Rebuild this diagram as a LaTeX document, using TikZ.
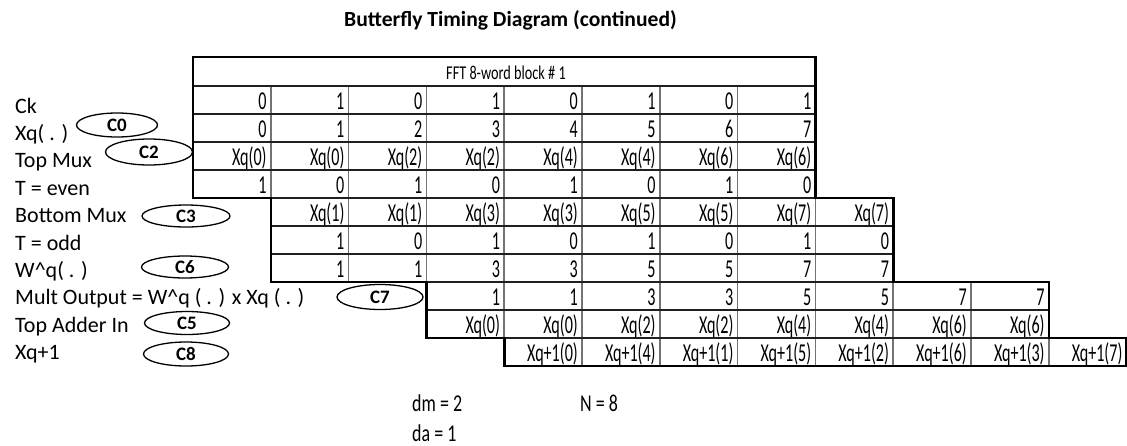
\documentclass[tikz,border=0pt]{standalone}
\usepackage{fontspec}
\usepackage{graphicx}
\setmainfont{Carlito}
\usetikzlibrary{shapes.geometric}

% narrow, tall table text
\newcommand\tabfont{\fontsize{23}{23}\selectfont}
\newcommand\cellt[1]{\scalebox{0.7}[1.12]{#1}}
\newcommand\hdrt[1]{\scalebox{0.62}[0.85]{#1}}
\newcommand\paramt[1]{\scalebox{0.78}[1.05]{#1}}

\tikzset{
  cell/.style={anchor=base east, inner sep=0pt, font=\tabfont},
  lbl/.style={anchor=base west, inner sep=0pt, font=\fontsize{22}{22}\selectfont},
  oval/.style={ellipse, draw=black, line width=1.3pt, inner sep=0pt,
               font=\bfseries\fontsize{19}{19}\selectfont},
  hline/.style={draw=black!88, line width=1.6pt},
  vline/.style={draw=black!55, line width=1.6pt},
  frame/.style={draw=black, line width=2.6pt, line join=miter},
  param/.style={font=\tabfont, anchor=base west, inner sep=0pt},
}

\begin{document}
\begin{tikzpicture}[x=1pt,y=-1pt]
\useasboundingbox (0,0) rectangle (1127,445);
\fill[white] (0,0) rectangle (1127,445);

% title
\node[anchor=base, inner sep=0pt, font=\bfseries\fontsize{21.6}{22}\selectfont]
  (title) at (510.5,26) {Butterfly Timing Diagram (continued)};

% ---- table cells ----
% row / first column / values
\foreach \r/\s/\vals in {
  1/0/{0,1,0,1,0,1,0,1},
  2/0/{0,1,2,3,4,5,6,7},
  3/0/{Xq(0),Xq(0),Xq(2),Xq(2),Xq(4),Xq(4),Xq(6),Xq(6)},
  4/0/{1,0,1,0,1,0,1,0},
  5/1/{Xq(1),Xq(1),Xq(3),Xq(3),Xq(5),Xq(5),Xq(7),Xq(7)},
  6/1/{1,0,1,0,1,0,1,0},
  7/1/{1,1,3,3,5,5,7,7},
  8/3/{1,1,3,3,5,5,7,7},
  9/3/{Xq(0),Xq(0),Xq(2),Xq(2),Xq(4),Xq(4),Xq(6),Xq(6)},
  10/4/{Xq+1(0),Xq+1(4),Xq+1(1),Xq+1(5),Xq+1(2),Xq+1(6),Xq+1(3),Xq+1(7)}}
{
  \foreach \v [count=\i from 1] in \vals {
    \node[cell] (c\r-\i) at ({193+77.8*(\s+\i)-4},{86+28*\r-5}) {\cellt{\v}};
  }
}

% header
\node[font=\tabfont, inner sep=0pt] (hdr) at (506,73) {\hdrt{FFT 8-word block \# 1}};

% ---- grid ----
% vertical rules inside each band
\foreach \k in {1,...,7} \draw[vline] ({193+77.8*\k},86) -- ({193+77.8*\k},198);
\foreach \k in {2,...,8} \draw[vline] ({193+77.8*\k},198) -- ({193+77.8*\k},282);
\foreach \k in {4,...,10} \draw[vline] ({193+77.8*\k},282) -- ({193+77.8*\k},338);
\foreach \k in {5,...,11} \draw[vline] ({193+77.8*\k},338) -- ({193+77.8*\k},366);

% horizontal rules
\foreach \y in {86,114,142,170} \draw[hline] (193,\y) -- (815.4,\y);
\draw[hline] (270.8,198) -- (815.4,198);
\foreach \y in {226,254} \draw[hline] (270.8,\y) -- (893.2,\y);
\draw[hline] (426.4,282) -- (893.2,282);
\draw[hline] (426.4,310) -- (1048.8,310);
\draw[hline] (504.2,338) -- (1048.8,338);

% stepped outline
\draw[frame] (193,198) -- (193,57) -- (815.4,57) -- (815.4,198) -- (893.2,198)
  -- (893.2,282) -- (1048.8,282) -- (1048.8,338) -- (1125.8,338) -- (1125.8,366)
  -- (504.2,366) -- (504.2,338) -- (426.4,338) -- (426.4,282) -- (270.8,282)
  -- (270.8,198) -- cycle;

% ---- row labels ----
\node[lbl] (lck)   at (15,113)   {Ck};
\node[lbl] (lxq)   at (15,140.4) {Xq( . )};
\node[lbl] (ltop)  at (15,167.8) {Top Mux};
\node[lbl] (lte)   at (15,195.2) {T = even};
\node[lbl] (lbot)  at (15,222.6) {Bottom Mux};
\node[lbl] (lto)   at (15,250)   {T = odd};
\node[lbl] (lw)    at (15,277.4) {W\^{}q( . )};
\node[lbl] (lmult) at (15,304.8) {Mult Output = W\^{}q ( . ) x Xq ( . )};
\node[lbl] (ladd)  at (15,332.2) {Top Adder In};
\node[lbl] (lnext) at (15,359.6) {Xq+1};

% ---- clock-phase ovals ----
\node[oval, minimum width=81pt, minimum height=24pt] (e0) at (117,125) {C0};
\node[oval, minimum width=87pt, minimum height=26pt] (e2) at (149,152) {C2};
\node[oval, minimum width=88pt, minimum height=22pt] (e3) at (186,216) {C3};
\node[oval, minimum width=87pt, minimum height=22pt] (e6) at (185,267) {C6};
\node[oval, minimum width=86pt, minimum height=25pt] (e7) at (380,297) {C7};
\node[oval, minimum width=85pt, minimum height=23pt] (e5) at (187,323) {C5};
\node[oval, minimum width=85pt, minimum height=24pt] (e8) at (186,354) {C8};

% ---- parameters ----
\node[param] (pdm) at (412,411) {\paramt{dm = 2}};
\node[param] (pda) at (412,441) {\paramt{da = 1}};
\node[param] (pn)  at (580,411) {\paramt{N = 8}};
\end{tikzpicture}
\end{document}
